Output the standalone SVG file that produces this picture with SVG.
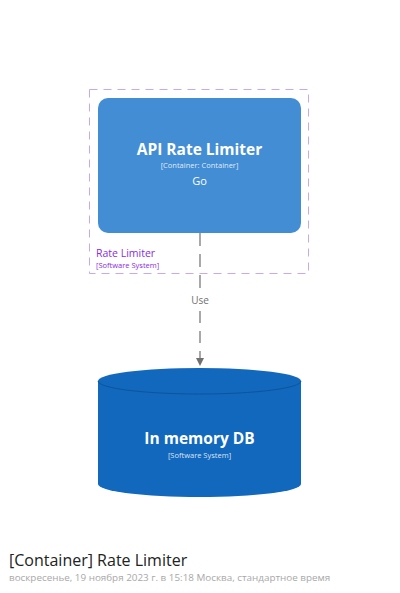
<svg xmlns="http://www.w3.org/2000/svg" width="400" height="593" viewBox="0 0 400 593">
<style>
text{font-family:"Open Sans","Noto Sans",sans-serif;}
.w{fill:#ffffff;text-anchor:middle;}
.t{font-weight:bold;font-size:15.5px;}
.s{font-size:7.5px;}
.c{stroke:#707070;stroke-width:1.2;fill:none;}
</style>
<defs>
<marker id="ah" markerWidth="10" markerHeight="10" refX="8" refY="4" orient="auto" markerUnits="userSpaceOnUse">
<path d="M0,0 L8,4 L0,8 z" fill="#707070"/>
</marker>
</defs>
<rect width="400" height="593" fill="#ffffff"/>
<g id="boundary">
<rect x="89.5" y="89.5" width="219" height="184" fill="none" stroke="#c7a9ee" stroke-width="1" stroke-dasharray="8,6"/>
<text x="96" y="256.5" font-size="10.5" fill="#8a2be2">Rate Limiter</text>
<text x="96" y="267.5" font-size="7.5" fill="#8a2be2">[Software System]</text>
</g>
<g id="connectors">
<path class="c" d="M200,233 L200,291" stroke-dasharray="13,8"/>
<path class="c" d="M200,311 L200,366" stroke-dasharray="12,8" marker-end="url(#ah)"/>
<text x="200" y="304" font-size="10" fill="#707070" text-anchor="middle">Use</text>
</g>
<g id="api">
<rect x="98" y="98" width="203" height="135" rx="10" fill="#438dd5"/>
<text class="w t" x="199.5" y="154.5">API Rate Limiter</text>
<text class="w s" x="199.5" y="168" fill-opacity="0.85">[Container: Container]</text>
<text class="w" x="199.5" y="185" font-size="11">Go</text>
</g>
<g id="db">
<path d="M98,381 A101.5,13 0 0 1 301,381 L301,484 A101.5,13 0 0 1 98,484 Z" fill="#1168bd"/>
<path d="M98,381 A101.5,13 0 0 0 301,381" fill="none" stroke="#0b4f95" stroke-width="0.8"/>
<text class="w t" x="199.5" y="444">In memory DB</text>
<text class="w s" x="199.5" y="457.5" fill-opacity="0.85">[Software System]</text>
</g>
<g id="footer">
<text x="9" y="566" font-size="16" fill="#222222">[Container] Rate Limiter</text>
<text x="9" y="580.5" font-size="9.85" fill="#a8a8a8">воскресенье, 19 ноября 2023 г. в 15:18 Москва, стандартное время</text>
</g>
</svg>
